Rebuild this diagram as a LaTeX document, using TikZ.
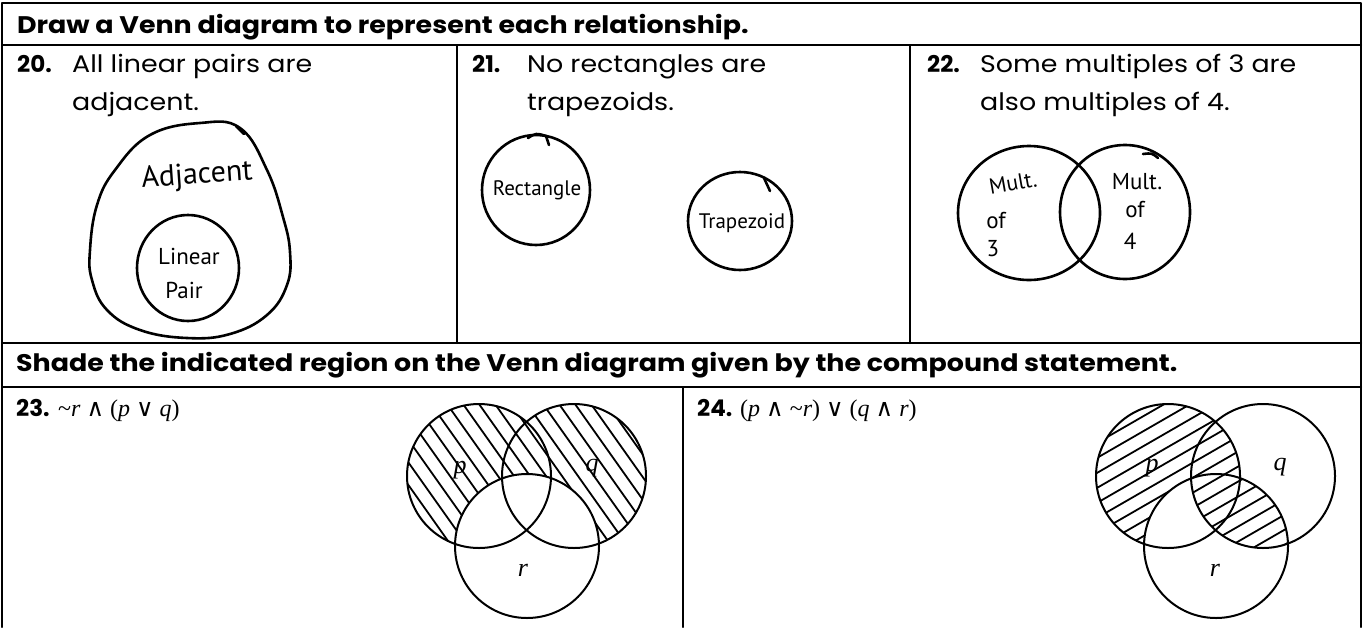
\documentclass[tikz,border=0pt]{standalone}
\usepackage{fontspec}
\setmainfont{Poppins}[FakeStretch=1.12]
\newfontfamily\numf{Poppins}
\newfontfamily\tms{Liberation Serif}
\newfontfamily\dvs{DejaVu Serif}
\newfontfamily\hand{PT Sans}
\begin{document}
\begin{tikzpicture}[x=1pt,y=-1pt,line cap=round,line join=round]
\tikzset{
  frame/.style={line width=2pt},
  pen/.style={line width=2.6pt},
  prt/.style={line width=2pt},
  hatch/.style={line width=1.8pt},
  ttl/.style={anchor=base west,inner sep=0pt,font=\fontsize{24}{28}\selectfont\bfseries},
  body/.style={anchor=base west,inner sep=0pt,font=\fontsize{24}{28}\selectfont},
  num/.style={anchor=base west,inner sep=0pt,font=\numf\fontsize{23}{28}\selectfont\bfseries},
  frm/.style={anchor=base west,inner sep=0pt,font=\tms\fontsize{24}{26}\selectfont},
  hw/.style={inner sep=0pt,font=\hand\fontsize{23}{25}\selectfont},
  var/.style={inner sep=0pt,font=\tms\itshape\fontsize{26}{28}\selectfont}
}
\useasboundingbox (0,0) rectangle (1364,627);
\fill[white] (0,0) rectangle (1364,627);

% frame
\draw[frame] (2,627) -- (2,3) -- (1361,3) -- (1361,627);
\draw[frame] (2,45) -- (1361,45);
\draw[frame] (2,343) -- (1361,343);
\draw[frame] (2,387) -- (1361,387);
\draw[frame] (457,45) -- (457,343);
\draw[frame] (910,45) -- (910,343);
\draw[frame] (683,387) -- (683,627);

% headings
\node[ttl] (t1) at (17,33) {Draw a Venn diagram to represent each relationship.};
\node[ttl] (t2) at (16,371) {Shade the indicated region on the Venn diagram given by the compound statement.};

% problem texts
\node[num] (n20) at (17,72) {20.};
\node[body] (s20a) at (72,72) {All linear pairs are};
\node[body] (s20b) at (72,110) {adjacent.};
\node[num] (n21) at (472,72) {21.};
\node[body] (s21a) at (527,72) {No rectangles are};
\node[body] (s21b) at (527,110) {trapezoids.};
\node[num] (n22) at (927,72) {22.};
\node[body] (s22a) at (980,72) {Some multiples of 3 are};
\node[body] (s22b) at (980,110) {also multiples of 4.};
\node[num] (n23) at (16,416) {23.};
\node[frm] (f23) at (58,416) {\textasciitilde\textit{r} {\dvs ∧} (\textit{p} {\dvs ∨} \textit{q})};
\node[num] (n24) at (697,416) {24.};
\node[frm] (f24) at (740,416) {(\textit{p} {\dvs ∧} \textasciitilde\textit{r}) {\dvs ∨} (\textit{q} {\dvs ∧} \textit{r})};

% 20: Adjacent / Linear Pair
\draw[pen] plot[smooth cycle,tension=0.7] coordinates {
  (200,123) (240,128) (267,170) (283,217) (290,252) (287,285) (267,315)
  (230,334) (187,338) (140,330) (107,310) (92,280) (90,250) (97,205)
  (115,170) (150,135)};
\draw[pen] (236,126) -- (244,134);
\draw[pen] (188,268) ellipse[x radius=51pt,y radius=53pt];
\node[hw,font=\hand\fontsize{30}{32}\selectfont,rotate=4] (adj) at (197,176) {Adjacent};
\node[hw] (lin) at (189,256) {Linear};
\node[hw] (pair) at (184,290) {Pair};

% 21: Rectangle / Trapezoid
\draw[pen] (536,190) ellipse[x radius=54pt,y radius=55pt];
\draw[pen] (528,138) .. controls (536,133) .. (546,136) -- (549,145);
\node[hw,font=\hand\fontsize{21}{23}\selectfont] (rect) at (537,190) {Rectangle};
\draw[pen] (740,221) ellipse[x radius=52pt,y radius=49pt];
\draw[pen] (764,178) -- (770,191);
\node[hw,font=\hand\fontsize{21}{23}\selectfont] (trap) at (742,223) {Trapezoid};

% 22: Mult. of 3 / Mult. of 4
\draw[pen] (1029,213) ellipse[x radius=71pt,y radius=67pt];
\draw[pen] (1125,212) ellipse[x radius=65pt,y radius=67pt];
\draw[pen] (1143,154) .. controls (1152,153) .. (1158,158);
\node[hw,rotate=10,font=\hand\fontsize{22}{24}\selectfont] (m3a) at (1013,183) {Mult.};
\node[hw] (m3b) at (996,221) {of};
\node[hw] (m3c) at (993,249) {3};
\node[hw] (m4a) at (1137,182) {Mult.};
\node[hw] (m4b) at (1135,210) {of};
\node[hw] (m4c) at (1130,241) {4};

% 23: ~r and (p or q)
\begin{scope}
  \clip (479,476) circle[radius=72pt] (574,476) circle[radius=72pt];
  \begin{scope}[even odd rule]
    \clip (0,0) rectangle (1364,627) (527,546) circle[radius=72pt];
    \foreach \k in {0,...,30} \draw[hatch] ({190+16*\k},380) -- ++(170,240);
  \end{scope}
\end{scope}
\draw[prt] (479,476) circle[radius=72pt];
\draw[prt] (574,476) circle[radius=72pt];
\draw[prt] (527,546) circle[radius=72pt];
\node[var] (p23) at (460,470) {p};
\node[var] (q23) at (592,468) {q};
\node[var] (r23) at (523,570) {r};

% 24: (p and ~r) or (q and r)
\begin{scope}
  \clip (1168,476) circle[radius=72pt];
  \begin{scope}[even odd rule]
    \clip (0,0) rectangle (1364,627) (1216,546) circle[radius=72pt];
    \foreach \k in {0,...,26} \draw[hatch] (1050,{395+15*\k}) -- ++(300,-173);
  \end{scope}
\end{scope}
\begin{scope}
  \clip (1263,476) circle[radius=72pt];
  \clip (1216,546) circle[radius=72pt];
  \foreach \k in {0,...,26} \draw[hatch] (1050,{395+15*\k}) -- ++(300,-173);
\end{scope}
\draw[prt] (1168,476) circle[radius=72pt];
\draw[prt] (1263,476) circle[radius=72pt];
\draw[prt] (1216,546) circle[radius=72pt];
\node[var] (p24) at (1152,468) {p};
\node[var] (q24) at (1280,467) {q};
\node[var] (r24) at (1215,570) {r};
\end{tikzpicture}
\end{document}
